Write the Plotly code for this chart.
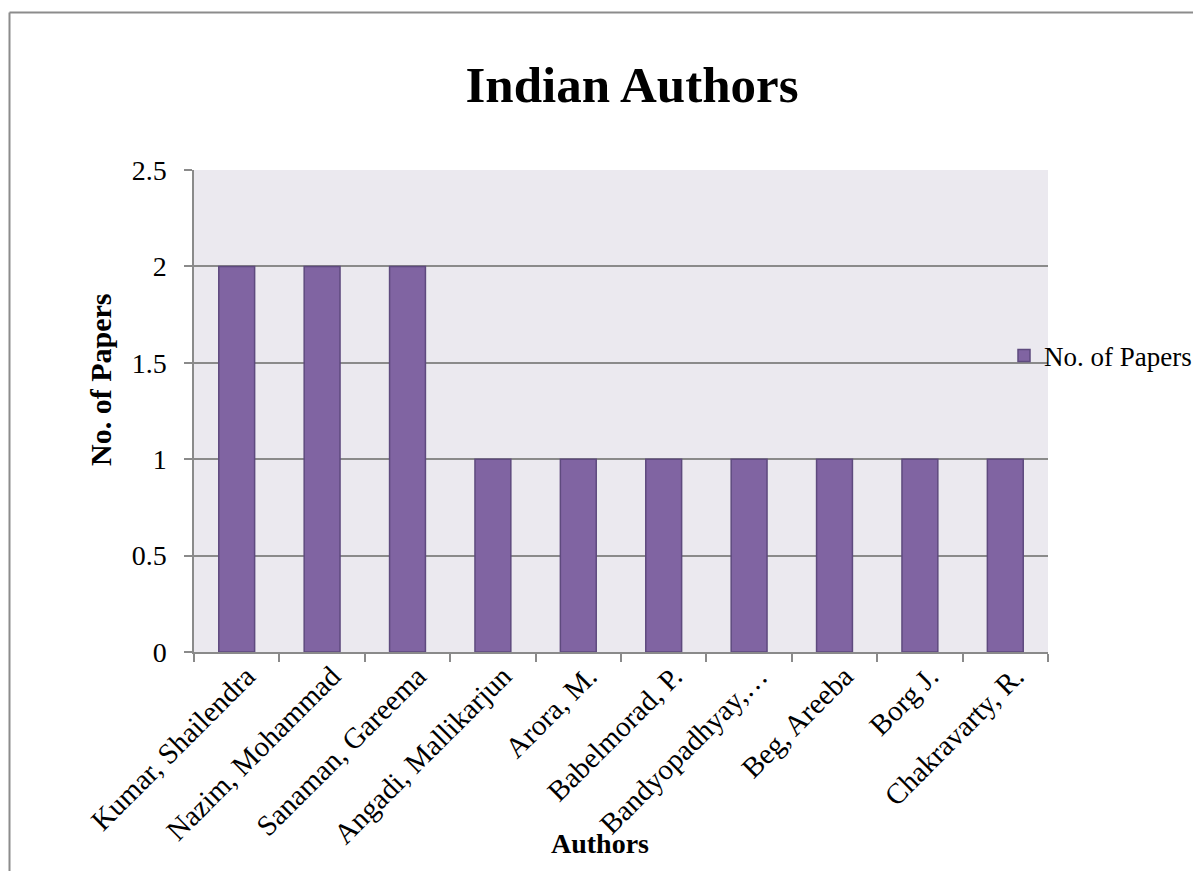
import plotly.graph_objects as go

# Paper counts per author
authors = [
    "Kumar, Shailendra",
    "Nazim, Mohammad",
    "Sanaman, Gareema",
    "Angadi, Mallikarjun",
    "Arora, M.",
    "Babelmorad, P.",
    "Bandyopadhyay,…",
    "Beg, Areeba",
    "Borg J.",
    "Chakravarty, R.",
]
papers = [2, 2, 2, 1, 1, 1, 1, 1, 1, 1]
y_ticks = [0, 0.5, 1, 1.5, 2, 2.5]
y_tick_text = ["0", "0.5", "1", "1.5", "2", "2.5"]

W, H = 1194, 871
L, R, T, B = 194, 1048, 170, 652
FONT = "Liberation Serif"
GRID = "#8a8a8a"

fig = go.Figure(
    go.Bar(
        x=authors,
        y=papers,
        name="No. of Papers",
        marker=dict(color="#8064A2", line=dict(color="#5E4A7E", width=1.5)),
    )
)


def px_x(v):
    return (v - L) / (R - L)


def px_y(v):
    return (B - v) / (B - T)


# outer chart frame
frame = dict(color="#8c8c8c", width=2)
fig.add_shape(type="line", xref="paper", yref="paper",
              x0=px_x(9.5), x1=px_x(9.5), y0=px_y(12.5), y1=px_y(875), line=frame)
fig.add_shape(type="line", xref="paper", yref="paper",
              x0=px_x(9.5), x1=px_x(1193), y0=px_y(12.5), y1=px_y(12.5), line=frame)

# axis titles
fig.add_annotation(text="<b>Authors</b>", xref="paper", yref="paper",
                   x=px_x(600), y=px_y(843), showarrow=False,
                   xanchor="center", yanchor="middle",
                   font=dict(family=FONT, size=28, color="black"))
fig.add_annotation(text="<b>No. of Papers</b>", xref="paper", yref="paper",
                   x=px_x(100), y=px_y(380), showarrow=False, textangle=-90,
                   xanchor="center", yanchor="middle",
                   font=dict(family=FONT, size=30, color="black"))

fig.update_layout(
    width=W,
    height=H,
    margin=dict(l=L, r=W - R, t=T, b=H - B, pad=0, autoexpand=False),
    paper_bgcolor="white",
    plot_bgcolor="#EBE9EF",
    bargap=0.58,
    font=dict(family=FONT, size=28, color="black"),
    title=dict(
        text="<b>Indian Authors</b>",
        font=dict(family=FONT, size=51, color="black"),
        x=632 / W,
        xanchor="center",
        y=1 - 84 / H,
        yanchor="middle",
    ),
    legend=dict(
        x=px_x(1004),
        xanchor="left",
        y=px_y(356),
        yanchor="middle",
        bgcolor="rgba(0,0,0,0)",
        font=dict(family=FONT, size=27),
        itemwidth=30,
    ),
    showlegend=True,
)

fig.update_xaxes(
    type="category",
    tickangle=-45,
    tickfont=dict(family=FONT, size=29),
    ticks="outside",
    tickson="boundaries",
    ticklen=8,
    tickcolor=GRID,
    tickwidth=1.5,
    ticklabelshift=10,
    ticklabelstandoff=-6,
    showline=True,
    linecolor=GRID,
    linewidth=1.5,
    showgrid=False,
    automargin=False,
)
fig.update_yaxes(
    range=[0, 2.5],
    tickvals=y_ticks,
    ticktext=y_tick_text,
    tickfont=dict(family=FONT, size=28),
    ticks="outside",
    ticklen=8,
    tickcolor=GRID,
    tickwidth=1.5,
    ticklabelstandoff=12,
    showline=True,
    linecolor=GRID,
    linewidth=1.5,
    showgrid=True,
    gridcolor=GRID,
    gridwidth=1.5,
    zeroline=False,
    automargin=False,
)

fig.write_html("out.html")
